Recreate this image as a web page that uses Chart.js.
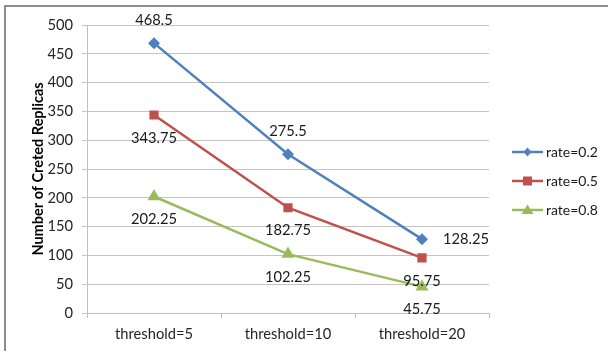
<!DOCTYPE html>
<html>
<head>
<meta charset="utf-8">
<script src="https://cdn.jsdelivr.net/npm/chart.js@4.4.1/dist/chart.umd.min.js"></script>
<style>
  html, body { margin: 0; padding: 0; background: #fff; }
  #wrap { position: relative; width: 608px; height: 351px; overflow: hidden; }
  #frame { position: absolute; left: 4px; top: 5px; width: 700px; height: 400px;
           border-left: 2px solid #8c8c8c; border-top: 2px solid #8c8c8c; pointer-events: none; }
  canvas { position: absolute; left: 0; top: 0; }
</style>
</head>
<body>
<div id="wrap">
  <canvas id="c" width="608" height="351"></canvas>
  <div id="frame"></div>
</div>
<script>
// Categories and series
const categories = ['threshold=5', 'threshold=10', 'threshold=20'];
const seriesNames = ['rate=0.2', 'rate=0.5', 'rate=0.8'];
const rate02 = [468.5, 275.5, 128.25];
const rate05 = [343.75, 182.75, 95.75];
const rate08 = [202.25, 102.25, 45.75];
const yTicks = [0, 50, 100, 150, 200, 250, 300, 350, 400, 450, 500];

const FONT = 'Lato, "Open Sans", sans-serif';
const colors = ['#4f81bd', '#c0504d', '#9bbb59'];
const markers = ['rectRot', 'rect', 'triangle'];
const markerSize = [6, 6.5, 7.5];
// where each value label sits relative to its point
const labelPlacement = [
  ['above', 'above', 'right'],
  ['below', 'below', 'below'],
  ['below', 'below', 'below']
];

const datasets = [rate02, rate05, rate08].map((vals, i) => ({
  label: seriesNames[i],
  data: vals,
  borderColor: colors[i],
  backgroundColor: colors[i],
  borderWidth: 2.5,
  pointStyle: markers[i],
  pointRadius: markerSize[i],
  pointHoverRadius: markerSize[i],
  pointBorderWidth: 0,
  pointBackgroundColor: colors[i],
  tension: 0
}));

// value labels next to each point
const valueLabels = {
  id: 'valueLabels',
  afterDatasetsDraw(chart) {
    const ctx = chart.ctx;
    ctx.save();
    ctx.font = '14.7px ' + FONT;
    ctx.fillStyle = '#1a1a1a';
    ctx.textBaseline = 'middle';
    chart.data.datasets.forEach((ds, di) => {
      const meta = chart.getDatasetMeta(di);
      meta.data.forEach((pt, j) => {
        const place = labelPlacement[di][j];
        let x = pt.x, y = pt.y;
        ctx.textAlign = 'center';
        if (place === 'above') y -= 23;
        else if (place === 'below') y += 23;
        else { x += 21; ctx.textAlign = 'left'; }
        ctx.fillText(String(ds.data[j]), x, y);
      });
    });
    ctx.restore();
  }
};

// legend on the right: line with marker, then series name
const sideLegend = {
  id: 'sideLegend',
  afterDraw(chart) {
    const ctx = chart.ctx;
    const x0 = 512, x1 = 543, ys = [152, 181, 210];
    ctx.save();
    chart.data.datasets.forEach((ds, i) => {
      const y = ys[i];
      ctx.strokeStyle = ds.borderColor;
      ctx.lineWidth = 2.5;
      ctx.beginPath();
      ctx.moveTo(x0, y); ctx.lineTo(x1, y); ctx.stroke();
      ctx.fillStyle = ds.borderColor;
      const cx = (x0 + x1) / 2;
      if (i === 0) {
        ctx.beginPath();
        ctx.moveTo(cx, y - 4.5); ctx.lineTo(cx + 4, y); ctx.lineTo(cx, y + 4.5); ctx.lineTo(cx - 4, y);
        ctx.closePath(); ctx.fill();
      } else if (i === 1) {
        ctx.fillRect(cx - 4.5, y - 4.5, 9, 9);
      } else {
        ctx.beginPath();
        ctx.moveTo(cx, y - 5.5); ctx.lineTo(cx + 6, y + 4); ctx.lineTo(cx - 6, y + 4);
        ctx.closePath(); ctx.fill();
      }
      ctx.fillStyle = '#1a1a1a';
      ctx.font = '14px ' + FONT;
      ctx.textAlign = 'left';
      ctx.textBaseline = 'middle';
      ctx.fillText(ds.label, x1 + 3, y);
    });
    ctx.restore();
  }
};

new Chart(document.getElementById('c'), {
  type: 'line',
  data: { labels: categories, datasets },
  plugins: [valueLabels, sideLegend],
  options: {
    responsive: false,
    animation: false,
    events: [],
    layout: { padding: { left: 0, right: 119, top: 25, bottom: 0 } },
    plugins: { legend: { display: false }, tooltip: { enabled: false } },
    scales: {
      x: {
        offset: true,
        afterFit(s) { s.height = 38; },
        grid: { display: true, offset: true, drawOnChartArea: false, color: '#bfbfbf', tickLength: 5 },
        border: { color: '#bfbfbf', width: 1 },
        ticks: { font: { family: FONT, size: 14.7 }, color: '#262626', padding: 7, maxRotation: 0 }
      },
      y: {
        min: 0, max: 500,
        afterBuildTicks(s) { s.ticks = yTicks.map(v => ({ value: v })); },
        afterFit(s) { s.width = 87; },
        grid: { color: '#c4c4c4', tickLength: 5 },
        border: { color: '#bfbfbf', width: 1 },
        ticks: { font: { family: FONT, size: 14.7 }, color: '#262626', padding: 9 },
        title: {
          display: true,
          text: 'Number of Creted Replicas',
          font: { family: FONT, size: 14.5, weight: 'bold' },
          color: '#000',
          padding: { top: 30, bottom: 0 }
        }
      }
    }
  }
});
</script>
</body>
</html>
